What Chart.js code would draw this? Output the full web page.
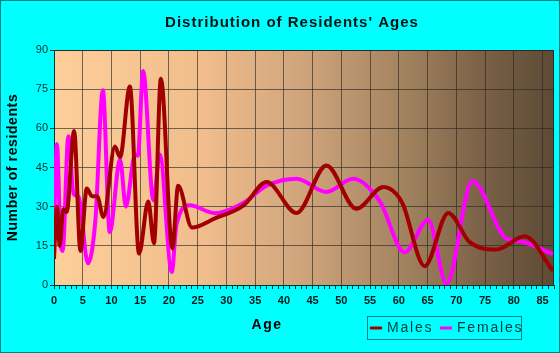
<!DOCTYPE html>
<html>
<head>
<meta charset="utf-8">
<script src="https://cdn.jsdelivr.net/npm/chart.js@4.4.0/dist/chart.umd.min.js"></script>
<style>
  html, body { margin: 0; padding: 0; background: #00ffff; }
  #wrap { width: 560px; height: 353px; }
</style>
</head>
<body>
<div id="wrap"><canvas id="ages" width="560" height="353"></canvas></div>
<script>
// Данные графика
const maleAges = [0, 0.5, 1, 1.6, 2.2, 3.5, 4.6, 5.7, 6.6, 7.5, 8.6, 10.6, 11.5, 13.2, 14.8, 16.4, 17.4, 18.6, 20.6, 21.6, 24, 28, 33, 37, 42.2, 47.4, 52.6, 57.3, 59.5, 60.7, 64.5, 68.6, 72.3, 77, 81.9, 86.8];
const maleCounts = [10, 30, 15, 29, 28, 59, 13, 37, 34, 34, 26, 53, 49, 76, 12, 32, 16, 79, 14, 38, 22, 25.5, 30.5, 39.4, 27.6, 45.8, 29.2, 37.5, 35, 31, 7.2, 27.6, 16.5, 13.6, 18.7, 5.5];

const femaleAges = [0, 0.5, 1.2, 1.5, 2.5, 3.4, 4.3, 5.9, 7.2, 8.5, 9.7, 11.5, 12.5, 14.1, 14.6, 15.5, 17.3, 18.4, 20.5, 21.3, 23.6, 28, 33, 37, 42.2, 47.4, 52, 56.7, 61, 65.1, 68.3, 72.8, 78.7, 81.6, 86.8];
const femaleCounts = [20, 54, 15, 13, 57, 35, 33.7, 8.3, 24.8, 74.6, 20.3, 48, 30, 50, 49.5, 82, 32.4, 50, 5, 23, 30.5, 27.5, 31.5, 38, 40.7, 35.6, 40.7, 32, 12.5, 25, 0.6, 39.8, 17.8, 16.5, 11.8];

const xMax = 87;
const yMax = 90;
const yStep = 15;

const toPoints = (xs, ys) => xs.map((x, i) => ({ x: x, y: ys[i] }));

// Фон области построения и рамки
const backgroundPlugin = {
  id: 'plotBackground',
  beforeDraw(chart) {
    const { ctx, chartArea: a } = chart;
    ctx.save();
    const g = ctx.createLinearGradient(a.left, 0, a.right, 0);
    g.addColorStop(0, '#fdcf9b');
    g.addColorStop(0.3, '#f0bd8b');
    g.addColorStop(0.5, '#cfa47c');
    g.addColorStop(0.7, '#a3835f');
    g.addColorStop(0.85, '#7c6248');
    g.addColorStop(1, '#5d4a35');
    ctx.fillStyle = g;
    ctx.fillRect(a.left, a.top, a.right - a.left, a.bottom - a.top);
    ctx.restore();
  },
  afterDraw(chart) {
    const { ctx, chartArea: a } = chart;
    ctx.save();
    // рамка области
    ctx.strokeStyle = '#2a2a2a';
    ctx.lineWidth = 1;
    ctx.beginPath();
    ctx.moveTo(a.left, a.top + 0.5);
    ctx.lineTo(a.right - 0.5, a.top + 0.5);
    ctx.lineTo(a.right - 0.5, a.bottom);
    ctx.stroke();
    // рамка картинки
    ctx.strokeStyle = '#008080';
    ctx.strokeRect(0.5, 0.5, chart.width - 1, chart.height - 1);

    // заголовок
    ctx.fillStyle = '#001414';
    ctx.textAlign = 'center';
    ctx.textBaseline = 'middle';
    ctx.letterSpacing = '1px';
    ctx.font = 'bold 15px "Liberation Sans", Arial, sans-serif';
    ctx.fillText("Distribution of Residents' Ages", 292, 23);

    // подписи осей
    ctx.font = 'bold 14px "Liberation Sans", Arial, sans-serif';
    ctx.letterSpacing = '1.5px';
    ctx.fillStyle = '#000';
    ctx.fillText('Age', 267, 325);

    ctx.save();
    ctx.translate(13, (a.top + a.bottom) / 2);
    ctx.rotate(-Math.PI / 2);
    ctx.letterSpacing = '0.6px';
    ctx.fillText('Number of residents', 0, 0);
    ctx.restore();

    // легенда
    const bx = 367, by = 316, bw = 154, bh = 23;
    ctx.strokeStyle = '#008080';
    ctx.lineWidth = 1;
    ctx.strokeRect(bx + 0.5, by + 0.5, bw, bh);
    ctx.font = '14px "Liberation Sans", Arial, sans-serif';
    ctx.letterSpacing = '1.8px';
    ctx.textAlign = 'left';
    const items = [[370, 387], [440, 457]];
    chart.data.datasets.forEach((ds, i) => {
      const [lx, tx] = items[i];
      ctx.strokeStyle = ds.borderColor;
      ctx.lineWidth = 3;
      ctx.beginPath();
      ctx.moveTo(lx, by + 12);
      ctx.lineTo(lx + 12, by + 12);
      ctx.stroke();
      ctx.fillStyle = '#003a3a';
      ctx.fillText(ds.label, tx, by + 12.5);
    });
    ctx.restore();
  }
};

new Chart(document.getElementById('ages'), {
  type: 'line',
  data: {
    datasets: [
      {
        label: 'Males',
        data: toPoints(maleAges, maleCounts),
        borderColor: '#a00000',
        borderWidth: 4,
        pointRadius: 0,
        cubicInterpolationMode: 'monotone',
        fill: false
      },
      {
        label: 'Females',
        data: toPoints(femaleAges, femaleCounts),
        borderColor: '#ff00ff',
        borderWidth: 4,
        pointRadius: 0,
        cubicInterpolationMode: 'monotone',
        fill: false
      }
    ]
  },
  options: {
    responsive: false,
    animation: false,
    devicePixelRatio: 1,
    layout: { padding: { left: 0, right: 6, top: 50, bottom: 0 } },
    plugins: {
      legend: { display: false },
      title: { display: false },
      tooltip: { enabled: false }
    },
    scales: {
      x: {
        type: 'linear',
        min: 0,
        max: xMax,
        afterFit: (s) => { s.height = 68; },
        ticks: {
          stepSize: 1,
          autoSkip: false,
          maxRotation: 0,
          padding: 5,
          color: '#001a1a',
          font: { family: '"Liberation Sans", Arial, sans-serif', size: 11, weight: 'bold' },
          callback: (v) => (v % 5 === 0 ? String(v) : '')
        },
        grid: {
          color: (c) => (c.tick && c.tick.value % 5 === 0 ? 'rgba(45,40,35,0.65)' : 'rgba(0,0,0,0)'),
          tickColor: '#003838',
          tickLength: 4,
          lineWidth: 1
        },
        border: { color: '#003838', width: 1 }
      },
      y: {
        min: 0,
        max: yMax,
        afterFit: (s) => { s.width = 54; },
        ticks: {
          stepSize: yStep,
          padding: 2,
          color: '#003030',
          font: { family: '"Liberation Sans", Arial, sans-serif', size: 11 }
        },
        grid: {
          color: 'rgba(45,40,35,0.65)',
          tickColor: '#003838',
          tickLength: 4,
          lineWidth: 1
        },
        border: { color: '#003838', width: 1 }
      }
    }
  },
  plugins: [backgroundPlugin]
});
</script>
</body>
</html>
